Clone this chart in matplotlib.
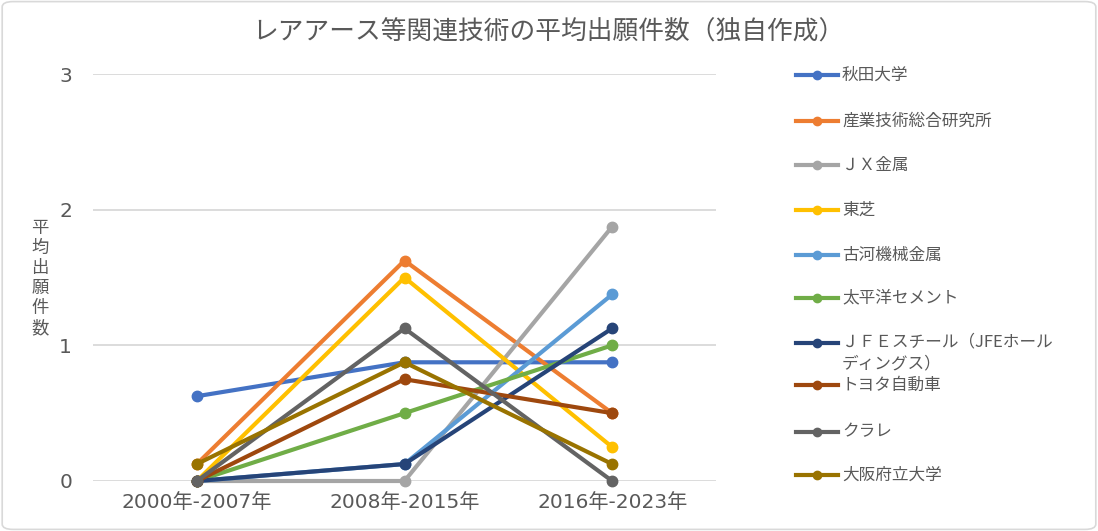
import matplotlib
matplotlib.use("Agg")
import matplotlib.pyplot as plt
from matplotlib.lines import Line2D
from matplotlib.patches import FancyBboxPatch

plt.rcParams['font.family'] = ['Noto Sans CJK JP', 'DejaVu Sans']

periods = ["2000年-2007年", "2008年-2015年", "2016年-2023年"]
names = ["秋田大学", "産業技術総合研究所", "ＪＸ金属", "東芝", "古河機械金属",
         "太平洋セメント", "ＪＦＥスチール（JFEホール\nディングス）", "トヨタ自動車",
         "クラレ", "大阪府立大学"]
akita = [0.625, 0.875, 0.875]
aist = [0.125, 1.625, 0.5]
jx = [0, 0, 1.875]
toshiba = [0, 1.5, 0.25]
furukawa = [0, 0.125, 1.375]
taiheiyo = [0, 0.5, 1.0]
jfe = [0, 0.125, 1.125]
toyota = [0, 0.75, 0.5]
kuraray = [0, 1.125, 0]
osaka = [0.125, 0.875, 0.125]
series = [akita, aist, jx, toshiba, furukawa, taiheiyo, jfe, toyota, kuraray, osaka]
colors = ["#4472C4", "#ED7D31", "#A5A5A5", "#FFC000", "#5B9BD5",
          "#70AD47", "#264478", "#9E480E", "#636363", "#997300"]

txt = "#595959"
W, H = 1098, 531
fig = plt.figure(figsize=(W / 100, H / 100), dpi=100)
fig.patches.append(FancyBboxPatch((0.002, 0.003), 0.996, 0.994,
                                  boxstyle="round,pad=0,rounding_size=0.01",
                                  transform=fig.transFigure, fc="none",
                                  ec="#D9D9D9", lw=1.2))

ax = fig.add_axes([93 / W, 1 - 481 / H, (716 - 93) / W, (481 - 74) / H])
ax.set_facecolor("none")
x = range(len(periods))
for vals, c in zip(series, colors):
    ax.plot(x, vals, color=c, lw=3, marker="o", ms=7.5, solid_capstyle="round",
            clip_on=False)

ax.set_xlim(-0.5, 2.5)
ax.set_ylim(0, 3)
ax.set_yticks([0, 1, 2, 3])
ax.set_xticks(list(x))
ax.set_xticklabels(periods, family=['DejaVu Sans', 'Noto Sans CJK JP'])
ax.grid(axis="y", color="#D9D9D9", lw=1.3)
ax.set_axisbelow(True)
for s in ax.spines.values():
    s.set_visible(False)
ax.tick_params(length=0, colors=txt, labelsize=14.5)
ax.tick_params(axis="y", pad=15)
ax.tick_params(axis="x", pad=9)
for lab in ax.get_yticklabels():
    lab.set_family(['DejaVu Sans'])

fig.text(548 / W, 1 - 33 / H, "レアアース等関連技術の平均出願件数（独自作成）",
         ha="center", va="center", fontsize=18.5, color=txt)
fig.text(40 / W, 1 - 278 / H, "\n".join("平均出願件数"), ha="center", va="center",
         fontsize=12.5, color=txt, linespacing=1.15)

# legend
ys = [75, 121, 165, 210, 255, 298, 343, 385, 432, 475]
for name, c, yy in zip(names, colors, ys):
    fy = 1 - yy / H
    fig.add_artist(Line2D([796 / W, 838 / W], [fy, fy], color=c, lw=3,
                          transform=fig.transFigure))
    fig.add_artist(Line2D([817 / W], [fy], color=c, marker="o", ms=6,
                          transform=fig.transFigure))
    if "\n" in name:
        fig.text(842 / W, 1 - (yy - 10) / H, name, ha="left", va="top",
                 fontsize=12, color=txt, linespacing=1.45)
    else:
        fig.text(842 / W, fy, name, ha="left", va="center", fontsize=12, color=txt)

fig.savefig("out.png", dpi=100)
